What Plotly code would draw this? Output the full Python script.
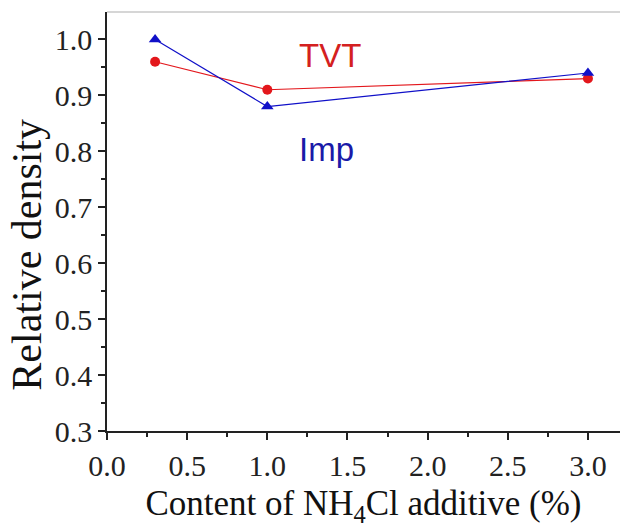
import plotly.graph_objects as go

# Data
content = [0.3, 1.0, 3.0]
tvt_density = [0.96, 0.91, 0.93]
imp_density = [1.00, 0.88, 0.94]

x_ticks = [0.0, 0.5, 1.0, 1.5, 2.0, 2.5, 3.0]
y_ticks = [0.3, 0.4, 0.5, 0.6, 0.7, 0.8, 0.9, 1.0]

red = "#e3171c"
blue = "#1010c8"
serif = "Liberation Serif"

fig = go.Figure()
fig.add_trace(go.Scatter(
    x=content, y=tvt_density, mode="lines+markers", name="TVT",
    line=dict(color=red, width=1.2),
    marker=dict(symbol="circle", size=10, color=red),
))
fig.add_trace(go.Scatter(
    x=content, y=imp_density, mode="lines+markers", name="Imp",
    line=dict(color=blue, width=1.2),
    marker=dict(symbol="triangle-up", size=11, color=blue),
))

fig.add_annotation(x=1.39, y=0.972, text="TVT", showarrow=False,
                   font=dict(family="Liberation Sans", size=33, color="#d42020"))
fig.add_annotation(x=1.37, y=0.803, text="Imp", showarrow=False,
                   font=dict(family="Liberation Sans", size=33, color="#1a1aa8"))

# y axis title placed as in the reference (slightly below the plot centre)
fig.add_annotation(xref="paper", yref="paper", x=-0.155, y=0.422, text="Relative density",
                   textangle=-90, showarrow=False, xanchor="center", yanchor="middle",
                   font=dict(family=serif, size=42, color="#111"))

# light grey top frame line
fig.add_shape(type="line", xref="paper", yref="paper", x0=0, x1=1, y0=1, y1=1,
              line=dict(color="#c8c8c8", width=1.5))

fig.update_layout(
    width=620, height=532,
    margin=dict(l=107, r=0, t=12, b=101),
    paper_bgcolor="white", plot_bgcolor="white",
    showlegend=False,
    font=dict(family=serif, size=30, color="#222"),
    xaxis=dict(
        range=[0, 3.2], tickvals=x_ticks, ticktext=[f"{v:.1f}" for v in x_ticks],
        showgrid=False, zeroline=False, showline=True, linecolor="#222", linewidth=1.5,
        ticks="outside", ticklen=7, tickwidth=1.5, tickcolor="#222",
        minor=dict(ticks="outside", ticklen=4, tickwidth=1.5, tickcolor="#222", dtick=0.25, showgrid=False),
        tickfont=dict(family=serif, size=30, color="#222"),
        title=dict(text="Content of NH<sub>4</sub>Cl additive (%)",
                   font=dict(family=serif, size=35, color="#111"),
                   standoff=10),
    ),
    yaxis=dict(
        range=[0.3, 1.049], tickvals=y_ticks, ticktext=[f"{v:.1f}" for v in y_ticks],
        showgrid=False, zeroline=False, showline=True, linecolor="#222", linewidth=1.5,
        ticks="outside", ticklen=7, tickwidth=1.5, tickcolor="#222",
        minor=dict(ticks="outside", ticklen=4, tickwidth=1.5, tickcolor="#222", dtick=0.05, showgrid=False),
        tickfont=dict(family=serif, size=30, color="#222"),
    ),
)

fig.write_html("out.html")
